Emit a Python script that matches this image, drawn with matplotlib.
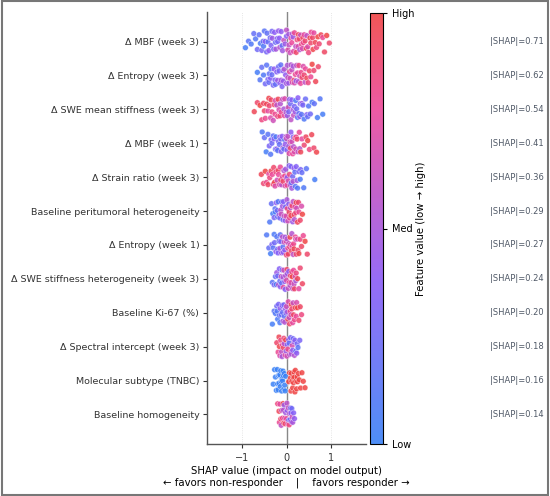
import matplotlib
matplotlib.use("Agg")
import matplotlib.pyplot as plt
import numpy as np
from matplotlib.colors import LinearSegmentedColormap, Normalize
from matplotlib.cm import ScalarMappable
from matplotlib.patches import Rectangle

# feature names, top to bottom
features = [
    "Δ MBF (week 3)",
    "Δ Entropy (week 3)",
    "Δ SWE mean stiffness (week 3)",
    "Δ MBF (week 1)",
    "Δ Strain ratio (week 3)",
    "Baseline peritumoral heterogeneity",
    "Δ Entropy (week 1)",
    "Δ SWE stiffness heterogeneity (week 3)",
    "Baseline Ki-67 (%)",
    "Δ Spectral intercept (week 3)",
    "Molecular subtype (TNBC)",
    "Baseline homogeneity",
]
mean_abs_shap = [0.71, 0.62, 0.54, 0.41, 0.36, 0.29, 0.27, 0.24, 0.20, 0.18, 0.16, 0.14]

# (shap value, normalised feature value) per patient
mbf_w3 = [(-0.93,0.05),(-0.86,0.15),(-0.80,0.10),(-0.74,0.20),(-0.70,0.12),(-0.66,0.25),(-0.62,0.18),(-0.59,0.08),
          (-0.56,0.30),(-0.53,0.22),(-0.50,0.15),(-0.48,0.35),(-0.45,0.28),(-0.42,0.20),(-0.40,0.40),(-0.37,0.25),
          (-0.35,0.32),(-0.32,0.45),(-0.29,0.30),(-0.27,0.38),(-0.24,0.50),(-0.21,0.35),(-0.18,0.42),(-0.15,0.55),
          (-0.12,0.40),(-0.09,0.48),(-0.06,0.62),(-0.03,0.45),(0.00,0.58),(0.03,0.70),(0.05,0.50),(0.08,0.65),
          (0.10,0.75),(0.13,0.55),(0.16,0.72),(0.18,0.80),(0.21,0.60),(0.24,0.85),(0.26,0.70),(0.29,0.90),
          (0.32,0.65),(0.34,0.82),(0.37,0.92),(0.40,0.75),(0.42,0.88),(0.45,0.95),(0.48,0.70),(0.50,0.85),
          (0.53,0.98),(0.56,0.80),(0.59,0.90),(0.62,0.75),(0.65,0.95),(0.68,0.85),(0.71,1.00),(0.74,0.88),
          (0.78,0.95),(0.82,0.80),(0.86,0.92),(0.91,1.00),(0.97,0.90),(-0.20,0.30),(-0.10,0.20),(0.00,0.35),
          (0.06,0.60),(0.15,0.45),(0.22,0.90),(0.30,0.55),(0.38,0.80),(0.46,0.60),(0.55,0.90),(-0.52,0.10),
          (-0.44,0.18),(-0.33,0.28),(-0.25,0.22),(-0.16,0.38),(0.12,0.78),(0.27,0.95),(0.36,0.70),(0.60,0.98)]
entropy_w3 = [(-0.66,0.05),(-0.60,0.12),(-0.56,0.20),(-0.52,0.10),(-0.48,0.25),(-0.45,0.15),(-0.42,0.30),(-0.39,0.18),
              (-0.36,0.35),(-0.33,0.22),(-0.30,0.28),(-0.28,0.40),(-0.25,0.20),(-0.22,0.35),(-0.20,0.45),(-0.17,0.30),
              (-0.15,0.38),(-0.12,0.50),(-0.10,0.32),(-0.07,0.42),(-0.05,0.55),(-0.02,0.40),(0.00,0.48),(0.03,0.60),
              (0.05,0.45),(0.08,0.65),(0.10,0.55),(0.13,0.72),(0.15,0.50),(0.18,0.68),(0.20,0.80),(0.23,0.60),
              (0.25,0.75),(0.28,0.85),(0.30,0.65),(0.33,0.82),(0.35,0.90),(0.38,0.70),(0.40,0.88),(0.43,0.78),
              (0.46,0.95),(0.49,0.85),(0.52,0.92),(0.55,0.80),(0.58,1.00),(0.62,0.88),(0.66,0.95),(0.72,0.90),
              (-0.35,0.15),(-0.18,0.25),(-0.08,0.35),(0.02,0.52),(0.12,0.62),(0.22,0.45),(0.32,0.78),(0.42,0.60),
              (-0.40,0.22),(-0.26,0.30),(-0.13,0.18),(0.07,0.75),(0.17,0.90),(0.27,0.55)]
swe_mean_w3 = [(-0.73,0.95),(-0.66,0.90),(-0.60,1.00),(-0.56,0.85),(-0.52,0.92),(-0.48,0.80),(-0.45,0.95),(-0.42,0.75),
               (-0.39,0.88),(-0.36,0.70),(-0.33,0.85),(-0.30,0.65),(-0.28,0.90),(-0.25,0.72),(-0.22,0.60),(-0.20,0.82),
               (-0.17,0.68),(-0.14,0.55),(-0.12,0.78),(-0.09,0.62),(-0.06,0.50),(-0.04,0.70),(-0.01,0.55),(0.02,0.45),
               (0.04,0.65),(0.07,0.40),(0.10,0.58),(0.12,0.35),(0.15,0.50),(0.18,0.30),(0.20,0.45),(0.23,0.25),
               (0.26,0.38),(0.28,0.20),(0.31,0.32),(0.34,0.15),(0.37,0.28),(0.40,0.10),(0.43,0.22),(0.46,0.35),
               (0.50,0.12),(0.54,0.25),(0.58,0.08),(0.63,0.18),(0.70,0.05),(0.76,0.12),(0.82,0.05),(-0.40,0.98),
               (-0.26,0.80),(-0.15,0.88),(-0.05,0.75),(0.05,0.30),(0.16,0.62),(0.25,0.15),(0.35,0.45),(0.48,0.20),
               (-0.50,0.90),(-0.35,0.92),(-0.19,0.95),(0.09,0.25),(0.21,0.10),(0.30,0.40)]
mbf_w1 = [(-0.55,0.10),(-0.50,0.20),(-0.46,0.05),(-0.42,0.15),(-0.39,0.30),(-0.36,0.12),(-0.33,0.25),(-0.30,0.18),
          (-0.28,0.35),(-0.25,0.22),(-0.22,0.40),(-0.20,0.15),(-0.18,0.30),(-0.15,0.45),(-0.13,0.25),(-0.10,0.38),
          (-0.08,0.50),(-0.06,0.20),(-0.03,0.42),(-0.01,0.55),(0.01,0.35),(0.03,0.60),(0.05,0.48),(0.08,0.70),
          (0.10,0.40),(0.12,0.65),(0.14,0.78),(0.16,0.55),(0.19,0.85),(0.21,0.68),(0.24,0.90),(0.26,0.60),
          (0.29,0.80),(0.32,0.95),(0.35,0.75),(0.40,0.88),(0.44,0.92),(0.48,1.00),(0.52,0.85),(0.57,0.95),
          (0.62,0.90),(0.68,0.98),(-0.35,0.28),(-0.24,0.10),(-0.12,0.32),(-0.04,0.15),(0.06,0.72),(0.15,0.35),
          (0.22,0.82),(0.30,0.55),(-0.16,0.20),(0.00,0.62),(0.09,0.88),(0.18,0.70)]
strain_w3 = [(-0.57,0.95),(-0.52,0.88),(-0.48,1.00),(-0.45,0.82),(-0.42,0.92),(-0.38,0.85),(-0.35,0.95),(-0.32,0.78),
             (-0.29,0.90),(-0.26,0.72),(-0.24,0.85),(-0.21,0.65),(-0.19,0.92),(-0.16,0.70),(-0.14,0.80),(-0.11,0.60),
             (-0.09,0.75),(-0.06,0.55),(-0.04,0.82),(-0.02,0.48),(0.00,0.62),(0.02,0.42),(0.04,0.70),(0.06,0.38),
             (0.08,0.55),(0.10,0.30),(0.12,0.48),(0.14,0.25),(0.17,0.40),(0.19,0.18),(0.22,0.35),(0.25,0.12),
             (0.28,0.28),(0.31,0.08),(0.35,0.20),(0.39,0.10),(0.45,0.15),(0.64,0.05),(-0.40,0.75),(-0.27,0.98),
             (-0.13,0.88),(-0.03,0.68),(0.07,0.85),(0.15,0.55),(0.24,0.45),(0.32,0.30),(-0.30,0.88),(-0.18,0.78),
             (-0.08,0.90),(0.01,0.80),(0.11,0.22),(0.20,0.15)]
peritumoral = [(-0.38,0.10),(-0.34,0.20),(-0.31,0.05),(-0.28,0.30),(-0.26,0.15),(-0.23,0.40),(-0.21,0.25),(-0.19,0.12),
               (-0.17,0.45),(-0.15,0.30),(-0.13,0.55),(-0.11,0.20),(-0.09,0.48),(-0.07,0.35),(-0.05,0.60),(-0.03,0.42),
               (-0.01,0.70),(0.01,0.50),(0.03,0.65),(0.05,0.38),(0.07,0.80),(0.09,0.55),(0.11,0.72),(0.13,0.88),
               (0.15,0.60),(0.17,0.92),(0.19,0.75),(0.21,0.85),(0.23,0.65),(0.25,0.95),(0.28,0.80),(0.31,0.90),
               (0.34,0.70),(0.36,1.00),(-0.25,0.08),(-0.12,0.62),(-0.02,0.28),(0.06,0.90),(0.14,0.45),(0.22,0.98),
               (-0.20,0.18),(-0.08,0.25),(0.02,0.85),(0.10,0.95),(0.18,0.55),(0.27,0.88)]
entropy_w1 = [(-0.45,0.10),(-0.40,0.20),(-0.36,0.05),(-0.33,0.30),(-0.30,0.15),(-0.27,0.25),(-0.24,0.40),(-0.22,0.12),
              (-0.19,0.35),(-0.17,0.22),(-0.15,0.50),(-0.13,0.30),(-0.11,0.45),(-0.09,0.58),(-0.07,0.38),(-0.05,0.62),
              (-0.03,0.48),(-0.01,0.70),(0.01,0.55),(0.03,0.78),(0.05,0.62),(0.07,0.85),(0.09,0.68),(0.11,0.90),
              (0.13,0.75),(0.15,0.60),(0.17,0.95),(0.20,0.80),(0.22,0.88),(0.25,0.72),(0.28,0.98),(0.31,0.85),
              (0.34,0.92),(0.38,0.80),(0.42,1.00),(0.47,0.90),(-0.28,0.08),(-0.14,0.18),(-0.04,0.40),(0.04,0.92),
              (0.12,0.55),(0.21,0.65),(-0.20,0.28),(-0.08,0.15),(0.00,0.85),(0.08,0.98),(0.16,0.82),(0.26,0.90)]
swe_het_w3 = [(-0.32,0.15),(-0.28,0.30),(-0.25,0.20),(-0.22,0.45),(-0.20,0.25),(-0.18,0.55),(-0.16,0.35),(-0.14,0.40),
              (-0.12,0.60),(-0.10,0.30),(-0.08,0.50),(-0.06,0.65),(-0.04,0.42),(-0.02,0.55),(0.00,0.70),(0.02,0.48),
              (0.04,0.62),(0.06,0.80),(0.08,0.55),(0.10,0.72),(0.12,0.85),(0.14,0.60),(0.16,0.78),(0.18,0.90),
              (0.20,0.68),(0.22,0.85),(0.25,0.95),(0.28,0.75),(0.31,0.88),(0.36,0.92),(-0.23,0.10),(-0.11,0.20),
              (-0.03,0.35),(0.05,0.40),(0.13,0.98),(0.21,0.50),(-0.15,0.22),(-0.07,0.75),(0.01,0.90),(0.09,0.88),
              (0.17,0.62)]
ki67 = [(-0.32,0.05),(-0.28,0.15),(-0.25,0.10),(-0.22,0.25),(-0.20,0.08),(-0.18,0.30),(-0.16,0.18),(-0.14,0.40),
        (-0.12,0.22),(-0.10,0.35),(-0.08,0.50),(-0.06,0.28),(-0.04,0.55),(-0.02,0.42),(0.00,0.65),(0.02,0.50),
        (0.04,0.72),(0.06,0.60),(0.08,0.80),(0.10,0.68),(0.12,0.88),(0.14,0.75),(0.16,0.92),(0.18,0.82),
        (0.20,0.95),(0.22,0.78),(0.25,1.00),(0.28,0.88),(0.31,0.92),(0.34,0.85),(-0.21,0.12),(-0.09,0.20),
        (-0.01,0.30),(0.07,0.90),(0.15,0.62),(0.23,0.70),(-0.15,0.08),(-0.05,0.18),(0.03,0.95),(0.11,0.98)]
spectral_w3 = [(-0.22,0.90),(-0.19,0.80),(-0.17,0.95),(-0.15,0.70),(-0.13,0.85),(-0.11,0.60),(-0.09,0.78),(-0.07,0.92),
               (-0.05,0.55),(-0.03,0.72),(-0.01,0.45),(0.01,0.65),(0.03,0.82),(0.05,0.40),(0.07,0.58),(0.09,0.30),
               (0.11,0.50),(0.13,0.68),(0.15,0.25),(0.17,0.45),(0.19,0.35),(0.21,0.20),(0.23,0.40),(0.26,0.15),
               (0.30,0.30),(-0.16,0.98),(-0.06,0.85),(0.02,0.35),(0.10,0.75),(0.18,0.55),(0.24,0.28),(-0.10,0.50),
               (-0.02,0.95),(0.06,0.20),(0.14,0.38)]
tnbc = [(-0.30,0.0),(-0.27,0.0),(-0.25,0.0),(-0.23,0.0),(-0.21,0.0),(-0.19,0.0),(-0.18,0.0),(-0.16,0.0),
        (-0.15,0.0),(-0.13,0.0),(-0.12,0.0),(-0.10,0.0),(-0.09,0.0),(-0.08,0.0),(-0.06,0.0),(-0.05,0.0),
        (-0.03,0.0),(-0.02,0.0),(-0.20,0.0),(-0.14,0.0),(-0.11,0.0),(-0.07,0.0),(-0.04,0.0),(-0.17,0.0),
        (0.05,1.0),(0.07,1.0),(0.09,1.0),(0.11,1.0),(0.12,1.0),(0.14,1.0),(0.15,1.0),(0.17,1.0),
        (0.18,1.0),(0.20,1.0),(0.21,1.0),(0.23,1.0),(0.25,1.0),(0.27,1.0),(0.29,1.0),(0.32,1.0),
        (0.35,1.0),(0.38,1.0),(0.42,1.0),(0.10,1.0),(0.16,1.0),(0.19,1.0),(0.24,1.0)]
homogeneity = [(-0.20,0.85),(-0.17,0.95),(-0.15,0.75),(-0.13,0.90),(-0.11,0.65),(-0.09,0.82),(-0.07,0.55),(-0.06,0.92),
               (-0.04,0.70),(-0.02,0.48),(0.00,0.78),(0.02,0.40),(0.04,0.62),(0.05,0.35),(0.07,0.55),(0.09,0.30),
               (0.11,0.45),(0.12,0.25),(0.14,0.50),(0.16,0.35),(0.18,0.40),(-0.12,0.60),(-0.03,0.88),(0.03,0.72),
               (0.08,0.20),(0.13,0.65),(-0.08,0.98),(0.01,0.58),(-0.16,0.80),(-0.05,0.45),(0.06,0.85),(0.10,0.38)]

rows = [mbf_w3, entropy_w3, swe_mean_w3, mbf_w1, strain_w3, peritumoral,
        entropy_w1, swe_het_w3, ki67, spectral_w3, tnbc, homogeneity]

cmap = LinearSegmentedColormap.from_list(
    "shap_bpr", [(0.0, "#3b82f6"), (0.38, "#8b5cf6"), (0.78, "#ec4899"), (1.0, "#ef4444")])
norm = Normalize(0, 1)

W, H = 550, 496
fig = plt.figure(figsize=(W / 100, H / 100), dpi=100)
ax = fig.add_axes([207 / W, 1 - 444 / H, 159 / W, 432 / H])

strata = np.array([0, 2, 1, 3, 2, 0, 3, 1])
n = len(features)
for k, row in enumerate(rows):
    yc = n - 1 - k
    data = np.array(row)
    order = np.argsort(data[:, 0], kind="stable")
    x = data[order, 0]
    c = data[order, 1]
    # deterministic, stratified vertical spread inside the row band
    i = np.arange(len(x))
    h = np.modf(np.abs(np.sin((i + 1 + 37 * k) * 12.9898) * 43758.5453))[0]
    u = (strata[(i + k) % 8] + h) / 4.0
    off = (u - 0.5) * 0.68
    ax.scatter(x, yc + off, c=c, cmap=cmap, norm=norm, s=17, alpha=0.85,
               edgecolors="white", linewidths=0.3, zorder=3)
    ax.annotate("|SHAP|=%.2f" % mean_abs_shap[k], xy=(490 / W, yc),
                xycoords=("figure fraction", "data"), va="center", ha="left",
                fontsize=6, color="#4f5866")

ax.axvline(0, color="#888888", lw=1.0, zorder=2)
for gx in (-1, 1):
    ax.axvline(gx, color="#dddddd", lw=0.6, ls=":", zorder=1)

ax.set_xlim(-1.8, 1.8)
ax.set_ylim(-0.87, n - 1 + 0.87)
ax.set_xticks([-1, 0, 1])
ax.set_xticklabels(["\u22121", "0", "1"])
ax.set_yticks(np.arange(n))
ax.set_yticklabels(features[::-1])
ax.tick_params(axis="y", labelsize=6.8, length=3, width=0.8, colors="#333333", pad=2.5)
ax.tick_params(axis="x", labelsize=7, length=3, width=0.8, colors="#333333")
for s in ("top", "right"):
    ax.spines[s].set_visible(False)
for s in ("left", "bottom"):
    ax.spines[s].set_color("#555555")
    ax.spines[s].set_linewidth(1.0)
ax.set_xlabel("SHAP value (impact on model output)\n\u2190 favors non-responder    |    favors responder \u2192",
              fontsize=7.3, labelpad=2)

cax = fig.add_axes([370 / W, 1 - 444 / H, 13 / W, 431 / H])
cb = fig.colorbar(ScalarMappable(norm=norm, cmap=cmap), cax=cax, alpha=0.9)
cb.set_ticks([0, 0.5, 1])
cb.set_ticklabels(["Low", "Med", "High"])
cb.ax.tick_params(labelsize=7, length=3, width=0.8)
cb.outline.set_linewidth(0.8)
cb.set_label("Feature value (low \u2192 high)", fontsize=7.3, labelpad=1)

fig.add_artist(Rectangle((0.003, 0.003), 0.994, 0.994, transform=fig.transFigure,
                         fill=False, edgecolor="#777777", linewidth=1.5))

fig.savefig("out.png", dpi=100)
